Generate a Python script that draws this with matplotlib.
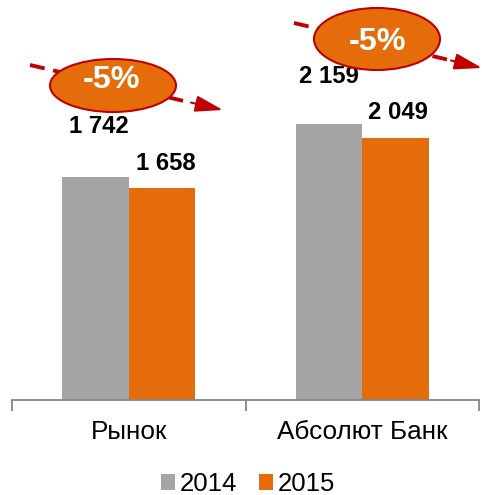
import matplotlib
matplotlib.use("Agg")
import matplotlib.pyplot as plt
from matplotlib.patches import Ellipse
from matplotlib.lines import Line2D
import numpy as np

plt.rcParams['font.family'] = ['Liberation Sans', 'DejaVu Sans']

categories = ["Рынок", "Абсолют Банк"]
series_names = ["2014", "2015"]
values_2014 = [1742, 2159]
values_2015 = [1658, 2049]
labels_2014 = ["1 742", "2 159"]
labels_2015 = ["1 658", "2 049"]
change_labels = ["-5%", "-5%"]

GRAY = "#A5A5A5"
ORANGE = "#E46C0A"
DARKRED = "#C00000"
AXIS = "#868686"

W, H = 482, 495
fig = plt.figure(figsize=(W / 100, H / 100), dpi=100)
ax = fig.add_axes([12 / W, 1 - 399.5 / H, (479 - 12) / W, 399.5 / H])

x = np.arange(len(categories))
bw = 0.285
b1 = ax.bar(x - bw / 2, values_2014, bw, color=GRAY, label=series_names[0], zorder=2)
b2 = ax.bar(x + bw / 2, values_2015, bw, color=ORANGE, label=series_names[1], zorder=2)

ax.set_xlim(-0.5, 1.5)
ax.set_ylim(0, 3128)

for s in ["left", "right", "top"]:
    ax.spines[s].set_visible(False)
ax.spines["bottom"].set_color(AXIS)
ax.spines["bottom"].set_linewidth(1.3)
ax.set_yticks([])
ax.set_xticks(x)
ax.set_xticklabels(categories, fontsize=18.8, color="#000000")
ax.tick_params(axis="x", which="major", length=0, pad=15)
ax.set_xticks([-0.5, 0.5, 1.5], minor=True)
ax.tick_params(axis="x", which="minor", length=8, width=1.3, color=AXIS, direction="out")

# value labels
offs_2014 = [(3, 51), (0, 47)]
offs_2015 = [(3.5, 24), (2.5, 25)]
for i in range(len(categories)):
    ax.annotate(labels_2014[i], (x[i] - bw / 2, values_2014[i]), xytext=offs_2014[i],
                textcoords="offset pixels", ha="center", va="center",
                fontsize=17.2, fontweight="bold", color="#000000")
    ax.annotate(labels_2015[i], (x[i] + bw / 2, values_2015[i]), xytext=offs_2015[i],
                textcoords="offset pixels", ha="center", va="center",
                fontsize=17.2, fontweight="bold", color="#000000")

# legend
fig.legend(handles=[b1, b2], labels=series_names, loc="center",
           bbox_to_anchor=(248 / W, 1 - 484 / H), ncol=2, frameon=False,
           fontsize=18.5, handlelength=0.55, handleheight=0.55, handletextpad=0.18,
           columnspacing=0.85, borderpad=0, borderaxespad=0)

# overlay for annotation shapes (pixel coordinates)
ov = fig.add_axes([0, 0, 1, 1])
ov.set_xlim(0, W)
ov.set_ylim(H, 0)
ov.axis("off")
ov.patch.set_alpha(0)

arrows = [((30, 65), (183, 100.8), (191, 102.6), (223, 110)),
          ((294, 23), (447, 59.5), (451, 60.5), (482, 68))]
ellipses = [((113, 85.5), 126, 53, (112, 80.5)),
            ((377, 39), 126, 62, (377.5, 42)),
            ]

for (p0, p1, a0, a1), ((cx, cy), ew, eh, tp), lab in zip(arrows, ellipses, change_labels):
    ln = Line2D([p0[0], p1[0]], [p0[1], p1[1]], color=DARKRED, lw=2.8,
                dashes=(3.86, 2.24), dash_capstyle="butt", zorder=1)
    ov.add_line(ln)
    ov.annotate("", xy=a1, xytext=a0,
                arrowprops=dict(arrowstyle="-|>,head_length=1.7,head_width=0.5",
                                color=DARKRED, lw=1.5, shrinkA=0, shrinkB=0),
                zorder=1)
    e = Ellipse((cx, cy), ew, eh, facecolor=ORANGE, edgecolor=DARKRED, lw=1.5, zorder=3)
    ov.add_patch(e)
    ov.text(tp[0], tp[1], lab, ha="center", va="center", fontsize=23.3,
            fontweight="bold", color="white", zorder=4)

fig.savefig("out.png", dpi=100)
